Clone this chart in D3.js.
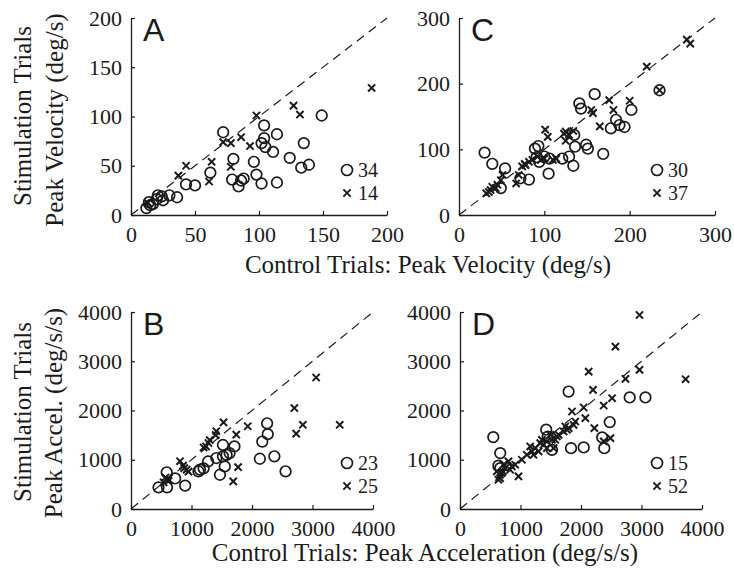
<!DOCTYPE html>
<html><head><meta charset="utf-8">
<script src="https://cdn.jsdelivr.net/npm/d3@7"></script>
<style>body{margin:0;background:#fff}svg{display:block}</style>
</head><body>
<svg id="chart" width="734" height="570"></svg>
<script>
// ---------------- data ----------------
const ticksVelA = [0, 50, 100, 150, 200];
const ticksVelC = [0, 100, 200, 300];
const ticksAcc = [0, 1000, 2000, 3000, 4000];
const panelNames = ["A", "C", "B", "D"];
const countsA = [34, 14];
const countsC = [30, 37];
const countsB = [23, 25];
const countsD = [15, 52];
const xLabelTop = "Control Trials: Peak Velocity (deg/s)";
const xLabelBottom = "Control Trials: Peak Acceleration (deg/s/s)";
const yLabelTop = ["Stimulation Trials", "Peak Velocity (deg/s)"];
const yLabelBottom = ["Stimulation Trials", "Peak Accel. (deg/s/s)"];

// Panel A (peak velocity) – circles / crosses: [control, stimulation]
const circlesA = [[72,84],[104,91],[114,82],[104,78],[102,73],[105,69],[111,64],[135,73],[149,101],[124,58],
  [133,48],[139,51],[80,57],[96,54],[98,41],[79,36],[84,29],[86,35],[88,37],[102,32],[114,33],[62,43],
  [43,31],[50,30],[36,18],[30,20],[24,19],[21,20],[25,15],[14,13],[12,7],[17,11],[20,16],[15,10]];
const crossesA = [[188,129],[127,111],[132,102],[98,101],[72,74],[78,73],[86,79],[93,70],[78,49],[63,54],
  [61,34],[43,50],[37,40],[13,12]];
// Panel C (peak velocity)
const circlesC = [[30,95],[39,78],[54,71],[49,41],[72,56],[82,54],[91,88],[93,105],[89,101],[94,81],
  [100,89],[105,63],[106,86],[121,86],[134,75],[129,89],[136,104],[149,107],[151,101],[141,170],
  [143,162],[159,184],[169,93],[178,132],[184,145],[188,137],[194,134],[202,160],[235,190],[135,122]];
const crossesC = [[267,267],[271,261],[220,226],[235,190],[200,174],[176,175],[181,160],[155,160],[165,135],
  [157,155],[123,124],[134,128],[125,113],[101,130],[104,119],[92,89],[96,84],[100,86],[77,78],[82,81],
  [86,84],[70,61],[67,48],[49,53],[45,46],[39,43],[35,35],[32,33],[51,61],[74,74],[78,76],[114,86],
  [110,84],[129,122],[125,127],[43,41],[37,38]];
// Panel B (peak acceleration)
const circlesB = [[2250,1740],[2260,1520],[2170,1370],[2130,1020],[2370,1070],[2555,765],[1710,1270],
  [1520,1300],[1630,1135],[1580,1100],[1520,1070],[1410,1035],[1550,865],[1470,695],[1275,965],
  [1140,800],[590,745],[455,440],[595,440],[730,620],[895,475],[1115,765],[1200,825]];
const crossesB = [[3060,2670],[2700,2050],[2840,1710],[2730,1530],[3450,1710],[1930,1680],[1740,1510],
  [1530,1760],[1410,1580],[1280,1340],[1240,1270],[1770,850],[1690,560],[810,970],[860,880],[920,800],
  [950,760],[570,640],[620,570],[540,540],[600,600],[1300,1400],[1400,1500],[880,830],[1200,1250]];
// Panel D (peak acceleration)
const circlesD = [[550,1460],[665,1135],[635,880],[665,830],[1425,1610],[1450,1470],[1520,1200],
  [1795,2385],[1835,1235],[2045,1250],[2350,1455],[2475,1765],[2385,1235],[2805,2265],[3065,2265]];
const crossesD = [[2967,3939],[2569,3297],[2127,2790],[2967,2824],[2735,2642],[3729,2635],[2199,2419],
  [2514,2250],[2376,2101],[2044,2061],[1851,1980],[2072,1845],[2221,1642],[2486,1439],[1906,1777],
  [1878,1709],[1768,1608],[1713,1574],[1796,1642],[1602,1473],[1519,1405],[1492,1507],[1547,1236],
  [1436,1372],[1381,1304],[1326,1338],[1243,1236],[1188,1169],[1160,1270],[1215,1101],[1105,1101],
  [1022,1000],[912,899],[967,662],[856,865],[801,966],[746,831],[707,764],[663,696],[635,595],[691,730],
  [718,899],[608,764],[1298,1169],[1436,1236],[1630,1507],[1740,1676],[2376,1372],[663,628],[829,797],
  [1354,1405],[1575,1405]];

// ---------------- drawing ----------------
const svg = d3.select("#chart");
const SERIF = "'Liberation Serif','Times New Roman',serif";
const SANS = "'Liberation Sans',Arial,sans-serif";
const INK = "#1a1a1a";

const panels = [
  {name: panelNames[0], max: 200, ticks: ticksVelA, circles: circlesA, crosses: crossesA, counts: countsA,
   x0: 131, x1: 387, y0: 215, y1: 18, legX: 347, legY: 170},
  {name: panelNames[1], max: 300, ticks: ticksVelC, circles: circlesC, crosses: crossesC, counts: countsC,
   x0: 459, x1: 715, y0: 215, y1: 18, legX: 657, legY: 170},
  {name: panelNames[2], max: 4000, ticks: ticksAcc, circles: circlesB, crosses: crossesB, counts: countsB,
   x0: 131, x1: 373, y0: 509, y1: 312, legX: 347, legY: 463},
  {name: panelNames[3], max: 4000, ticks: ticksAcc, circles: circlesD, crosses: crossesD, counts: countsD,
   x0: 460, x1: 702, y0: 509, y1: 312, legX: 657, legY: 463}
];

function crossPath(s) { return `M${-s},${-s}L${s},${s}M${-s},${s}L${s},${-s}`; }

panels.forEach(p => {
  const x = d3.scaleLinear().domain([0, p.max]).range([p.x0, p.x1]);
  const y = d3.scaleLinear().domain([0, p.max]).range([p.y0, p.y1]);
  const g = svg.append("g");

  // axes
  const ax = g.append("g").attr("transform", `translate(0,${p.y0})`)
    .call(d3.axisBottom(x).tickValues(p.ticks).tickFormat(d3.format("d")).tickSizeInner(-4).tickSizeOuter(0).tickPadding(11));
  const ay = g.append("g").attr("transform", `translate(${p.x0},0)`)
    .call(d3.axisLeft(y).tickValues(p.ticks).tickFormat(d3.format("d")).tickSizeInner(-4).tickSizeOuter(0).tickPadding(9));
  [ax, ay].forEach(a => {
    a.selectAll("path.domain").attr("stroke", INK).attr("stroke-width", 1.3);
    a.selectAll(".tick line").attr("stroke", INK).attr("stroke-width", 1.2);
    a.selectAll(".tick text").attr("fill", INK).style("font-family", SERIF).style("font-size", "22px");
  });

  // identity line
  g.append("line")
    .attr("x1", x(0)).attr("y1", y(0)).attr("x2", x(p.max)).attr("y2", y(p.max))
    .attr("stroke", INK).attr("stroke-width", 1.2).attr("stroke-dasharray", "9,6");

  // circles
  g.append("g").selectAll("circle").data(p.circles).join("circle")
    .attr("cx", d => x(d[0])).attr("cy", d => y(d[1])).attr("r", 5.3)
    .attr("fill", "none").attr("stroke", INK).attr("stroke-width", 1.7);
  // crosses
  g.append("g").selectAll("path").data(p.crosses).join("path")
    .attr("transform", d => `translate(${x(d[0])},${y(d[1])})`)
    .attr("d", crossPath(3.6)).attr("fill", "none").attr("stroke", INK).attr("stroke-width", 2);

  // panel letter
  g.append("text").attr("x", p.x0 + 12).attr("y", p.y1 + 23)
    .style("font-family", SANS).style("font-size", "32px").attr("fill", INK).text(p.name);

  // legend
  g.append("circle").attr("cx", p.legX).attr("cy", p.legY).attr("r", 5.5)
    .attr("fill", "none").attr("stroke", INK).attr("stroke-width", 1.7);
  g.append("path").attr("transform", `translate(${p.legX},${p.legY + 23})`)
    .attr("d", crossPath(3.6)).attr("fill", "none").attr("stroke", INK).attr("stroke-width", 2);
  g.append("text").attr("x", p.legX + 11).attr("y", p.legY + 7)
    .style("font-family", SERIF).style("font-size", "20px").attr("fill", INK).text(p.counts[0]);
  g.append("text").attr("x", p.legX + 11).attr("y", p.legY + 30)
    .style("font-family", SERIF).style("font-size", "20px").attr("fill", INK).text(p.counts[1]);
});

// axis titles
function label(txt, x, y, rot) {
  const t = svg.append("text").attr("text-anchor", "middle")
    .style("font-family", SERIF).style("font-size", "25px").attr("fill", INK).text(txt);
  if (rot) t.attr("transform", `translate(${x},${y}) rotate(-90)`);
  else t.attr("x", x).attr("y", y);
}
label(xLabelTop, 428, 273);
label(xLabelBottom, 425, 561);
label(yLabelTop[0], 31, 116, true);
label(yLabelTop[1], 63, 120, true);
label(yLabelBottom[0], 31, 412, true);
label(yLabelBottom[1], 62, 413, true);
</script>
</body></html>
